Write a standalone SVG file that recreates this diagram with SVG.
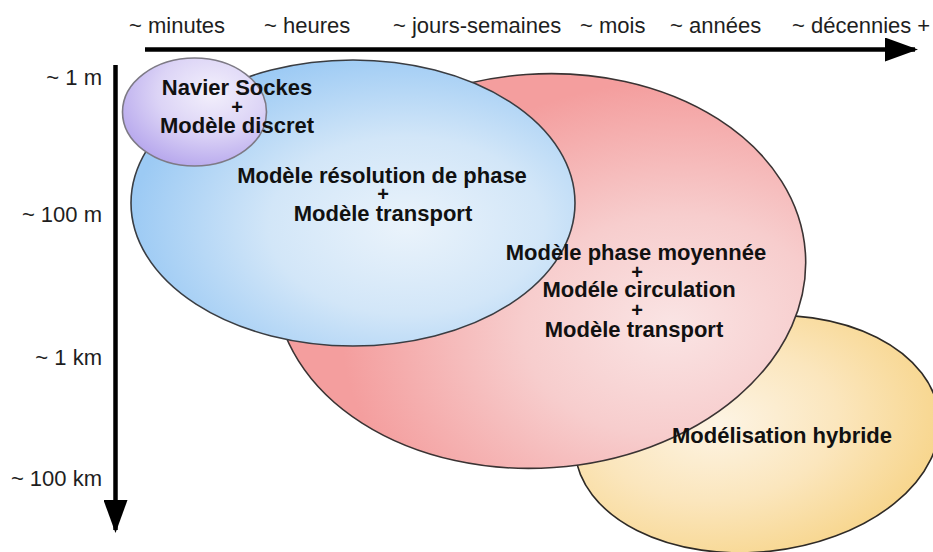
<svg xmlns="http://www.w3.org/2000/svg" width="933" height="552" viewBox="0 0 933 552">
<style>
.ax{font-family:"Liberation Sans",Arial,sans-serif;font-size:22px;fill:#1e1e1e}
.lb{font-family:"Liberation Sans",Arial,sans-serif;font-size:22px;font-weight:bold;fill:#111;text-anchor:middle}
.pl{font-size:20px}
.axis{stroke:#000;stroke-width:4.5;fill:none}
.ell{stroke-width:1.6}
</style>
<defs>
<marker id="ah" viewBox="0 0 33 24" markerWidth="33" markerHeight="24" refX="30" refY="12" orient="auto" markerUnits="userSpaceOnUse">
<path d="M0,0 L33,12 L0,24 z" fill="#000"/>
</marker>
<radialGradient id="gP" cx="0.62" cy="0.32" r="0.75">
<stop offset="0" stop-color="#f3f0fc"/>
<stop offset="0.5" stop-color="#dcd4f6"/>
<stop offset="1" stop-color="#b3a3ec"/>
</radialGradient>
<radialGradient id="gB" cx="0.62" cy="0.58" r="0.62">
<stop offset="0" stop-color="#eaf3fb"/>
<stop offset="0.5" stop-color="#d2e6f8"/>
<stop offset="1" stop-color="#9ccaf4"/>
</radialGradient>
<radialGradient id="gR" cx="0.74" cy="0.66" r="0.62">
<stop offset="0" stop-color="#fae4e4"/>
<stop offset="0.45" stop-color="#f7cdcd"/>
<stop offset="1" stop-color="#f49e9e"/>
</radialGradient>
<radialGradient id="gY" cx="0.4" cy="0.44" r="0.65">
<stop offset="0" stop-color="#fdf4e4"/>
<stop offset="0.5" stop-color="#fbe6bd"/>
<stop offset="1" stop-color="#f7d488"/>
</radialGradient>
</defs>
<rect width="933" height="552" fill="#fff"/>

<g id="connectors">
<line class="axis" x1="145" y1="49.5" x2="915" y2="49.5" marker-end="url(#ah)"/>
<line class="axis" x1="115.5" y1="65" x2="115.5" y2="530" marker-end="url(#ah)"/>
</g>

<g id="time-labels">
<text class="ax" x="129" y="33">~ minutes</text>
<text class="ax" x="264" y="33">~ heures</text>
<text class="ax" x="393" y="33">~ jours-semaines</text>
<text class="ax" x="580" y="33">~ mois</text>
<text class="ax" x="670" y="33">~ années</text>
<text class="ax" x="792" y="33">~ décennies +</text>
</g>

<g id="space-labels" style="text-anchor:end">
<text class="ax" x="102" y="85">~ 1 m</text>
<text class="ax" x="102" y="222">~ 100 m</text>
<text class="ax" x="102" y="365">~ 1 km</text>
<text class="ax" x="102" y="486">~ 100 km</text>
</g>

<g id="hybride">
<ellipse class="ell" cx="757" cy="434" rx="183" ry="118" transform="rotate(-6 757 434)" fill="url(#gY)" stroke="#2e2a26"/>
</g>

<g id="phase-moyennee">
<ellipse class="ell" cx="540" cy="271" rx="266" ry="197" transform="rotate(-4 540 271)" fill="url(#gR)" stroke="#3a3333"/>
</g>

<g id="resolution-phase">
<ellipse class="ell" cx="353" cy="203" rx="222" ry="143" fill="url(#gB)" stroke="#3a3d42"/>
<text class="lb" x="382" y="183">Modèle résolution de phase</text>
<text class="lb pl" x="383" y="200.5">+</text>
<text class="lb" x="383" y="221">Modèle transport</text>
</g>

<g id="navier-stokes">
<ellipse class="ell" cx="194.5" cy="112" rx="72" ry="54" fill="url(#gP)" stroke="#7d7a85"/>
<text class="lb" x="237" y="95">Navier Sockes</text>
<text class="lb pl" x="237" y="113.5">+</text>
<text class="lb" x="237" y="133">Modèle discret</text>
</g>

<g id="phase-moyennee-text">
<text class="lb" x="636" y="260">Modèle phase moyennée</text>
<text class="lb pl" x="637" y="278.5">+</text>
<text class="lb" x="639" y="297">Modéle circulation</text>
<text class="lb pl" x="637" y="316.5">+</text>
<text class="lb" x="634" y="337">Modèle transport</text>
</g>

<g id="hybride-text">
<text class="lb" x="782" y="443">Modélisation hybride</text>
</g>
</svg>
